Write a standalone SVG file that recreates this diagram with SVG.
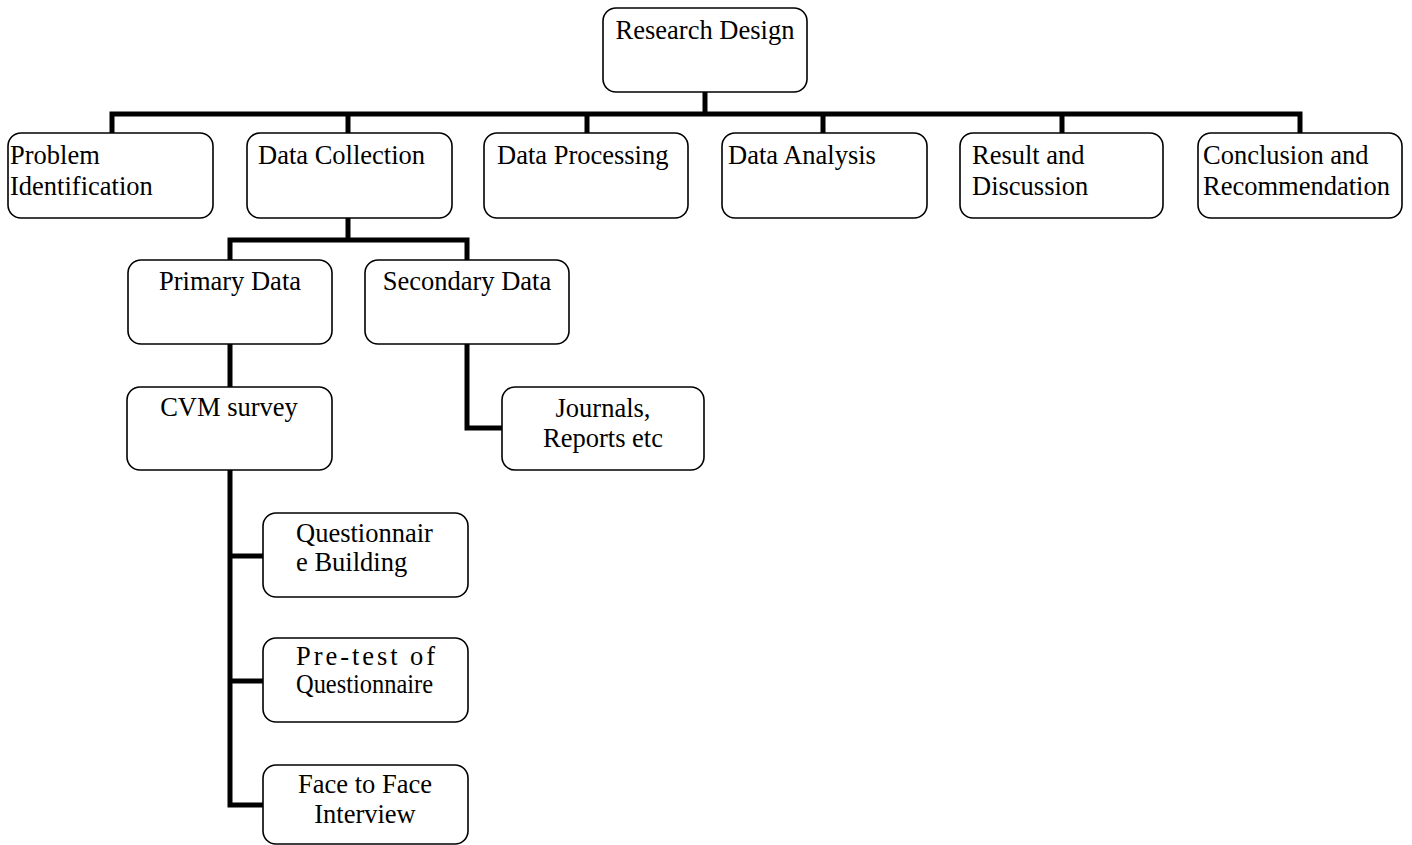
<svg xmlns="http://www.w3.org/2000/svg" width="1412" height="845" viewBox="0 0 1412 845">
<style>
.box{fill:#fff;stroke:#000;stroke-width:1.6}
.t{font-family:"Liberation Serif","Times New Roman",serif;font-size:26.5px;fill:#000}
.c{text-anchor:middle}
.con{fill:none;stroke:#000;stroke-width:5;stroke-linejoin:miter;stroke-linecap:butt}
</style>
<rect width="1412" height="845" fill="#fff"/>
<g id="connectors">
<path class="con" d="M705,92 V114"/>
<path class="con" d="M112,133 V114 H1300 V133"/>
<path class="con" d="M348,114 V133 M587,114 V133 M823,114 V133 M1062,114 V133"/>
<path class="con" d="M348,218 V240"/>
<path class="con" d="M230,260 V240 H467 V260"/>
<path class="con" d="M230,344 V387"/>
<path class="con" d="M467,344 V428 H502"/>
<path class="con" d="M230,470 V805 H263"/>
<path class="con" d="M230,556 H263 M230,681 H263"/>
</g>
<g id="research-design">
<rect class="box" x="603" y="8" width="204" height="84" rx="13"/>
<text class="t c" x="705" y="39">Research Design</text>
</g>
<g id="problem-identification">
<rect class="box" x="8" y="133" width="205" height="85" rx="13"/>
<text class="t" x="10" y="164">Problem</text>
<text class="t" x="10" y="195">Identification</text>
</g>
<g id="data-collection">
<rect class="box" x="247" y="133" width="205" height="85" rx="13"/>
<text class="t" x="258" y="164">Data Collection</text>
</g>
<g id="data-processing">
<rect class="box" x="484" y="133" width="204" height="85" rx="13"/>
<text class="t" x="497" y="164">Data Processing</text>
</g>
<g id="data-analysis">
<rect class="box" x="722" y="133" width="205" height="85" rx="13"/>
<text class="t" x="728" y="164">Data Analysis</text>
</g>
<g id="result-discussion">
<rect class="box" x="960" y="133" width="203" height="85" rx="13"/>
<text class="t" x="972" y="164">Result and</text>
<text class="t" x="972" y="195">Discussion</text>
</g>
<g id="conclusion-recommendation">
<rect class="box" x="1198" y="133" width="204" height="85" rx="13"/>
<text class="t" x="1203" y="164">Conclusion and</text>
<text class="t" x="1203" y="195">Recommendation</text>
</g>
<g id="primary-data">
<rect class="box" x="128" y="260" width="204" height="84" rx="13"/>
<text class="t c" x="230" y="290">Primary Data</text>
</g>
<g id="secondary-data">
<rect class="box" x="365" y="260" width="204" height="84" rx="13"/>
<text class="t c" x="467" y="290">Secondary Data</text>
</g>
<g id="cvm-survey">
<rect class="box" x="127" y="387" width="205" height="83" rx="13"/>
<text class="t c" x="229" y="416">CVM survey</text>
</g>
<g id="journals-reports">
<rect class="box" x="502" y="387" width="202" height="83" rx="13"/>
<text class="t c" x="603" y="417">Journals,</text>
<text class="t c" x="603" y="447">Reports etc</text>
</g>
<g id="questionnaire-building">
<rect class="box" x="263" y="513" width="205" height="84" rx="13"/>
<text class="t" x="296" y="542">Questionnair</text>
<text class="t" x="296" y="571">e Building</text>
</g>
<g id="pre-test">
<rect class="box" x="263" y="638" width="205" height="84" rx="13"/>
<text class="t" x="296" y="665" textLength="139" lengthAdjust="spacing">Pre-test of</text>
<text class="t" x="296" y="693" textLength="137" lengthAdjust="spacingAndGlyphs">Questionnaire</text>
</g>
<g id="face-to-face">
<rect class="box" x="263" y="765" width="205" height="79" rx="13"/>
<text class="t c" x="365" y="793">Face to Face</text>
<text class="t c" x="365" y="823">Interview</text>
</g>
</svg>
